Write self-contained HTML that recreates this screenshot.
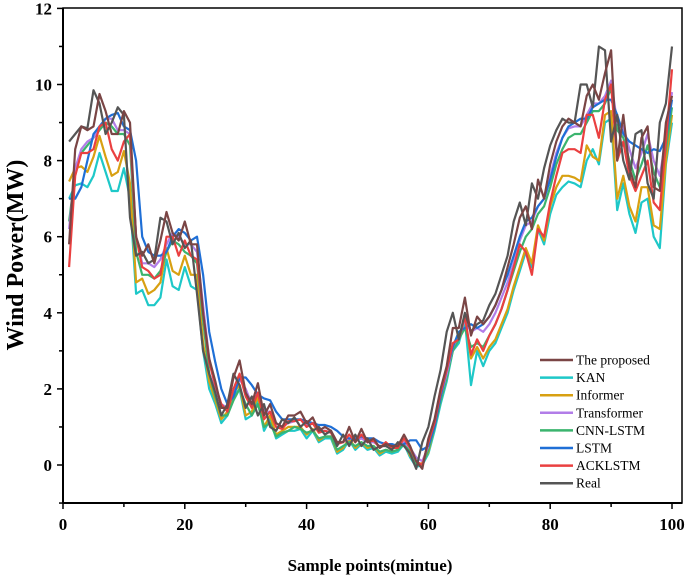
<!DOCTYPE html>
<html><head><meta charset="utf-8"><style>
body{margin:0;background:#fff;}
svg{display:block;font-family:"Liberation Serif",serif;}
</style></head><body>
<svg id="chart" width="685" height="576"></svg>
<script>
const xs = Array.from({length:100},(_, i)=>i+1);
const seriesNames = ["The proposed","KAN","Informer","Transformer","CNN-LSTM","LSTM","ACKLSTM","Real"];
const seriesColors = ["#7a4545","#1ec8c8","#d8a012","#b27de8","#3bb46e","#1f6fd6","#ea4040","#555555"];
const real = [8.5,8.7,8.9,8.85,9.85,9.5,8.7,9.0,9.4,9.2,6.5,5.5,5.6,5.3,5.4,6.5,6.4,5.8,6.1,5.7,5.9,4.5,3.0,2.4,1.9,1.3,1.6,2.4,2.1,1.5,1.8,1.3,1.6,1.0,0.9,1.2,1.1,1.25,1.0,1.15,0.9,1.0,0.8,0.9,0.5,0.8,0.5,0.8,0.5,0.7,0.4,0.5,0.5,0.4,0.6,0.5,0.3,-0.1,0.6,1.0,1.8,2.5,3.5,4.0,3.3,4.0,3.5,3.7,3.8,4.2,4.5,5.0,5.5,6.4,6.9,6.3,7.4,7.0,7.8,8.4,8.8,9.1,9.0,9.0,10.0,10.0,9.4,11.0,10.9,8.5,9.2,8.0,7.5,8.7,8.8,7.4,7.0,9.0,9.5,11.0];
const proposed = [5.8,8.3,8.9,8.8,8.9,9.75,9.3,8.7,8.7,9.3,9.0,6.0,5.5,5.8,5.3,5.9,6.65,6.1,5.9,6.4,5.8,5.8,4.0,2.8,2.2,1.5,1.5,2.3,2.75,1.9,1.6,2.15,1.3,1.6,1.1,1.0,1.3,1.3,1.4,1.1,1.25,0.9,1.0,0.9,0.6,0.6,1.0,0.6,0.95,0.6,0.7,0.45,0.55,0.5,0.5,0.8,0.5,0.1,-0.1,0.7,1.2,2.0,2.6,3.6,3.6,4.4,3.4,3.9,3.7,3.9,4.2,4.6,5.2,5.8,6.5,6.8,6.2,7.5,7.0,7.9,8.5,8.9,9.1,9.0,8.9,9.7,10.0,9.6,10.3,10.9,8.0,9.2,7.8,7.3,8.6,8.9,7.3,7.2,9.0,9.7];
const kan = [7.0,7.35,7.4,7.3,7.6,8.2,7.7,7.2,7.2,7.8,7.0,4.5,4.6,4.2,4.2,4.4,5.4,4.7,4.6,5.2,4.7,4.6,3.0,2.0,1.6,1.1,1.3,1.8,2.0,1.2,1.3,1.7,0.9,1.2,0.7,0.8,0.9,0.9,0.95,0.7,0.9,0.6,0.7,0.7,0.3,0.4,0.65,0.4,0.55,0.4,0.45,0.25,0.35,0.3,0.35,0.55,0.2,-0.05,0.0,0.3,0.9,1.6,2.2,3.0,3.2,3.8,2.1,3.0,2.6,3.0,3.2,3.6,4.0,4.6,5.1,5.6,5.2,6.2,5.8,6.6,7.1,7.3,7.45,7.4,7.3,8.0,8.3,7.9,9.0,9.1,6.7,7.4,6.6,6.1,6.9,7.0,6.0,5.7,7.9,9.0];
const informer = [7.45,7.8,7.85,7.7,8.1,8.65,8.1,7.6,7.7,8.25,7.4,4.8,4.9,4.5,4.6,4.8,5.7,5.1,5.0,5.5,5.0,5.0,3.2,2.2,1.7,1.2,1.4,1.9,2.1,1.3,1.4,1.8,1.0,1.3,0.8,0.9,1.0,1.0,1.0,0.8,0.95,0.65,0.75,0.75,0.35,0.45,0.7,0.45,0.6,0.45,0.5,0.3,0.4,0.35,0.4,0.6,0.25,0.0,0.05,0.35,1.0,1.7,2.3,3.1,3.3,3.9,2.8,3.1,2.8,3.1,3.3,3.7,4.1,4.7,5.2,5.7,5.3,6.3,5.9,6.8,7.3,7.6,7.6,7.55,7.45,8.4,8.1,8.0,9.2,9.3,7.0,7.6,6.8,6.4,7.3,7.3,6.3,6.2,8.0,9.2];
const transformer = [6.2,7.8,8.3,8.5,8.6,8.9,9.1,9.1,8.8,8.8,8.7,6.0,5.3,5.3,5.2,5.4,5.8,6.1,6.0,5.8,5.8,5.6,4.2,2.8,2.0,1.6,1.5,1.9,2.25,2.0,1.6,1.9,1.4,1.4,1.1,1.0,1.1,1.15,1.2,1.05,1.1,0.9,0.9,0.85,0.6,0.6,0.7,0.65,0.7,0.6,0.6,0.5,0.5,0.45,0.5,0.6,0.45,0.2,0.1,0.5,1.1,1.8,2.4,3.1,3.4,3.8,3.5,3.6,3.5,3.7,4.0,4.4,4.8,5.3,5.9,6.3,6.4,6.8,7.0,7.6,8.2,8.6,8.85,8.9,8.9,9.2,9.5,9.5,9.7,10.1,9.0,8.9,8.3,7.8,8.2,8.7,8.0,7.6,8.6,9.8];
const cnnlstm = [6.4,7.7,8.2,8.4,8.6,8.8,9.0,8.9,8.7,8.7,8.4,5.6,5.0,5.0,4.9,5.1,5.6,5.9,5.8,5.6,5.5,5.3,3.8,2.4,1.8,1.3,1.3,1.7,2.0,1.6,1.3,1.6,1.0,1.1,0.75,0.85,0.9,1.0,0.95,0.85,0.9,0.7,0.75,0.75,0.4,0.5,0.6,0.5,0.6,0.5,0.5,0.35,0.4,0.35,0.4,0.55,0.35,0.0,0.0,0.4,1.0,1.7,2.3,3.0,3.3,3.6,3.1,3.2,3.1,3.4,3.7,4.1,4.6,5.1,5.6,6.0,6.2,6.6,6.8,7.3,7.9,8.3,8.6,8.7,8.7,9.0,9.3,9.3,9.5,9.9,8.8,8.6,8.0,7.5,7.9,8.4,7.7,7.3,8.3,9.4];
const lstm = [7.0,7.0,7.3,8.0,8.7,8.9,9.1,9.2,9.25,8.9,8.8,8.0,6.0,5.6,5.5,5.5,5.6,6.0,6.2,6.1,5.9,6.0,5.0,3.5,2.7,2.0,1.6,1.8,2.3,2.3,2.1,1.85,1.75,1.7,1.4,1.2,1.2,1.2,1.2,1.15,1.1,1.05,1.05,1.0,0.9,0.75,0.7,0.7,0.75,0.7,0.7,0.6,0.55,0.55,0.5,0.55,0.65,0.65,0.4,0.5,1.0,1.8,2.5,3.1,3.5,3.6,3.7,3.6,3.7,3.9,4.2,4.6,5.0,5.5,6.0,6.4,6.5,6.8,7.0,7.5,8.1,8.6,8.9,9.0,9.1,9.1,9.4,9.5,9.6,9.6,9.2,8.7,8.5,8.4,8.3,8.2,8.3,8.25,8.6,9.6];
const acklstm = [5.2,7.6,8.2,8.2,8.3,8.9,9.0,8.3,8.0,8.5,8.7,6.0,5.2,5.1,4.9,5.0,6.0,6.0,5.5,5.9,5.5,5.4,4.0,2.7,2.1,1.6,1.4,2.0,2.4,1.8,1.5,1.9,1.2,1.4,1.0,0.95,1.15,1.15,1.2,1.0,1.1,0.85,0.9,0.85,0.55,0.6,0.8,0.6,0.8,0.6,0.65,0.45,0.6,0.45,0.45,0.7,0.45,0.1,0.0,0.6,1.1,1.9,2.5,3.2,3.3,3.9,2.9,3.3,3.0,3.4,3.7,4.1,4.6,5.2,5.8,5.6,5.0,6.2,6.0,6.9,7.6,8.2,8.3,8.3,8.2,9.2,9.2,8.6,9.6,10.0,8.0,8.5,7.6,7.2,7.6,8.0,6.9,6.7,8.5,10.4];
const xTicks = [0,20,40,60,80,100];
const yTicks = [0,2,4,6,8,10,12];

const NS="http://www.w3.org/2000/svg";
const svg=document.getElementById('chart');
const L=63,R=682,T=8,B=503;
const X=v=>63+v*6.09;
const Y=v=>465-v*38.05;
function mk(tag,attrs,parent){const e=document.createElementNS(NS,tag);for(const k in attrs)e.setAttribute(k,attrs[k]);(parent||svg).appendChild(e);return e;}

const data=[proposed,kan,informer,transformer,cnnlstm,lstm,acklstm,real];
const order=[1,2,4,3,5,6,7,0];
const g=mk('g',{});


order.forEach(i=>{
  const d=data[i].map((v,j)=>(j?'L':'M')+X(xs[j]).toFixed(1)+','+Y(v).toFixed(1)).join('');
  const p=mk('path',{d:d,fill:'none',stroke:seriesColors[i],'stroke-width':2.2,'stroke-linejoin':'round'},g);
  
  
});

const fr=mk('rect',{x:L,y:T,width:R-L,height:B-T,fill:'none',stroke:'#000','stroke-width':1.5});


mk('line',{x1:L,y1:B,x2:R,y2:B,stroke:'#000','stroke-width':2});
mk('line',{x1:L,y1:T,x2:L,y2:B,stroke:'#000','stroke-width':2});

for(let v=0;v<=100;v+=10){
  mk('line',{x1:X(v),y1:B,x2:X(v),y2:B+(v%20===0?6:4),stroke:'#000','stroke-width':1.5});
}
xTicks.forEach(v=>{
  const t=mk('text',{x:X(v),y:530,'text-anchor':'middle','font-size':17,'font-weight':'bold'});
  t.textContent=v;
  
  
});
for(let v=-1;v<=12;v++){
  mk('line',{x1:L,y1:Y(v),x2:L-(v%2===0?6:4),y2:Y(v),stroke:'#000','stroke-width':1.5});
}
yTicks.forEach(v=>{
  const t=mk('text',{x:52,y:Y(v)+6,'text-anchor':'end','font-size':17,'font-weight':'bold'});
  t.textContent=v;
  
  
});
const xt=mk('text',{x:370,y:571,'text-anchor':'middle','font-size':17,'font-weight':'bold'});
xt.textContent='Sample points(mintue)';


const yt=mk('text',{x:0,y:0,transform:'translate(23,255) rotate(-90)','text-anchor':'middle','font-size':24,'font-weight':'bold'});
yt.textContent='Wind Power(MW)';



const lg=mk('g',{});


seriesNames.forEach((n,i)=>{
  const y=360+i*17.6;
  const e=mk('g',{},lg);
  
  
  mk('line',{x1:540,y1:y,x2:573,y2:y,stroke:seriesColors[i],'stroke-width':2.5},e);
  const t=mk('text',{x:576,y:y+4.5,'font-size':13.5},e);
  t.textContent=n;
});
</script>
</body></html>
